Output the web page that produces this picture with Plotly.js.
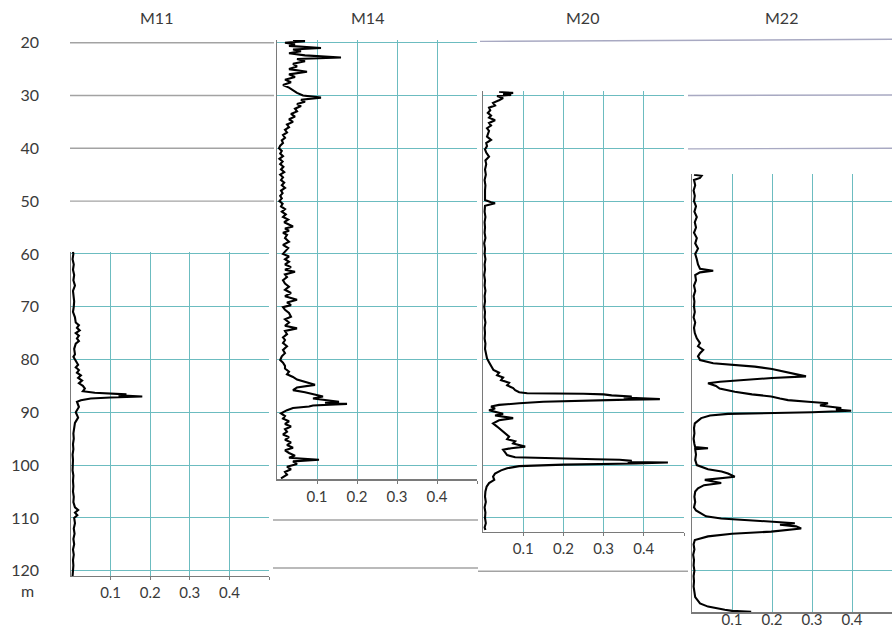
<!DOCTYPE html>
<html>
<head>
<meta charset="utf-8">
<script src="https://cdn.plot.ly/plotly-3.0.1.min.js"></script>
<style>html,body{margin:0;padding:0;background:#fff;}#chart{width:892px;height:630px;}</style>
</head>
<body>
<div id="chart"></div>
<script>
// ---------------- DATA ----------------
const wellNames = ['M11', 'M14', 'M20', 'M22'];
const depthTickVals = [20, 30, 40, 50, 60, 70, 80, 90, 100, 110, 120];
const depthTickText = ['20', '30', '40', '50', '60', '70', '80', '90', '100', '110', '120'];
const depthUnit = 'm';
const gridDepths = [20, 30, 40, 50, 60, 70, 80, 90, 100, 110, 120];
const xTickVals = [0.1, 0.2, 0.3, 0.4, 0.5];
const xTickText = ['0.1', '0.2', '0.3', '0.4', ''];

const m11Depth = [59.6,60,61,62,63,64,65,66,67,68,69,70,71,72,73,73.5,74,74.5,75,75.5,76,76.5,77,78,79,79.5,80,80.5,81,81.5,82,82.5,83,83.5,84,84.5,85,85.5,86,86.3,86.6,86.8,87,87.2,87.4,87.7,88,89,90,91,92,93,94,95,96,97,98,99,100,101,102,103,104,105,106,107,108,108.5,109,109.5,110,111,112,113,114,115,116,117,118,119,120,121];
const m11Val = [0.005,0.006,0.004,0.007,0.005,0.008,0.006,0.01,0.005,0.006,0.008,0.007,0.005,0.01,0.012,0.02,0.015,0.022,0.012,0.02,0.015,0.02,0.012,0.008,0.01,0.006,0.01,0.012,0.018,0.012,0.02,0.015,0.025,0.018,0.028,0.02,0.03,0.035,0.03,0.06,0.14,0.12,0.18,0.1,0.05,0.025,0.015,0.02,0.012,0.018,0.01,0.008,0.006,0.007,0.005,0.006,0.004,0.005,0.005,0.004,0.006,0.005,0.006,0.005,0.007,0.006,0.01,0.018,0.01,0.016,0.008,0.01,0.007,0.009,0.006,0.008,0.005,0.007,0.005,0.006,0.005,0.004];

const m14Depth = [19.5,19.7,20,20.3,20.6,21,21.3,21.6,22,22.4,22.8,23.1,23.5,24,24.5,25,25.5,26,26.5,27,27.5,28,28.5,29,29.5,30,30.4,30.8,31.2,31.6,32,32.5,33,33.5,34,34.5,35,35.5,36,36.5,37,37.5,38,38.5,39,39.5,40,40.5,41,41.5,42,42.5,43,43.5,44,44.5,45,45.5,46,46.5,47,47.5,48,48.5,49,49.5,50,50.5,51,51.5,52,52.5,53,53.5,54,54.8,55.2,55.6,56,56.4,57,57.7,58.3,58.9,59.5,60,60.5,61,61.5,62,62.5,63,63.4,63.9,64.4,65,65.6,66.2,66.8,67.4,68,68.7,69.2,69.7,70.1,70.6,71.2,71.9,72.4,73,73.6,74.1,74.6,75.2,75.8,76.3,76.9,77.5,78.2,78.8,79.4,80.1,80.6,81.2,81.7,82.3,82.8,83.3,83.8,84.3,84.8,85.3,85.8,86.2,86.6,87,87.4,87.7,88,88.2,88.4,88.7,88.9,89.2,89.6,90.2,90.7,91.2,91.7,92.2,92.7,93.2,93.7,94.2,94.7,95.2,95.7,96.2,96.7,97.2,97.7,98.2,98.6,99,99.3,99.8,100.3,100.8,101.3,101.8,102.2,102.5];
const m14Val = [0.04,0.07,0.02,0.045,0.03,0.11,0.04,0.06,0.03,0.07,0.16,0.05,0.07,0.04,0.05,0.03,0.075,0.03,0.045,0.02,0.035,0.015,0.03,0.04,0.05,0.065,0.11,0.06,0.07,0.05,0.06,0.045,0.05,0.035,0.045,0.03,0.04,0.025,0.03,0.02,0.025,0.015,0.02,0.012,0.015,0.008,0.005,0.012,0.008,0.015,0.006,0.014,0.008,0.016,0.01,0.018,0.008,0.015,0.01,0.018,0.012,0.02,0.01,0.014,0.008,0.012,0.006,0.014,0.01,0.02,0.012,0.022,0.015,0.028,0.018,0.04,0.02,0.03,0.015,0.025,0.02,0.03,0.015,0.028,0.02,0.015,0.03,0.02,0.03,0.02,0.035,0.02,0.045,0.02,0.025,0.015,0.02,0.03,0.02,0.035,0.02,0.05,0.025,0.035,0.015,0.02,0.03,0.035,0.02,0.03,0.02,0.05,0.02,0.025,0.015,0.02,0.015,0.025,0.015,0.02,0.012,0.008,0.015,0.02,0.02,0.03,0.025,0.04,0.05,0.07,0.095,0.05,0.04,0.07,0.09,0.115,0.09,0.13,0.155,0.12,0.175,0.09,0.08,0.04,0.025,0.01,0.02,0.015,0.03,0.02,0.035,0.02,0.025,0.015,0.03,0.02,0.035,0.025,0.04,0.02,0.03,0.045,0.03,0.105,0.04,0.05,0.025,0.035,0.02,0.025,0.015,0.01];

const m20Depth = [29.3,29.5,29.7,29.9,30.1,30.5,30.9,31.4,31.9,32.3,32.8,33.3,33.8,34.2,34.7,35.2,35.7,36.2,36.7,37.2,37.8,38.4,39,39.6,40.2,40.8,41.6,42.3,43,44,45,46,47,48,49,49.8,50.2,50.4,50.6,50.9,52,53,54,55,56,57,58,59,60,61,62,63,64,65,66,67,68,69,70,71,72,73,74,75,76,77,78,79,79.8,80.5,81.2,82,82.5,83,83.4,83.9,84.4,84.9,85.4,85.8,86.2,86.4,86.5,86.6,86.8,87,87.2,87.4,87.5,87.6,87.8,88,88.3,88.6,88.9,89.3,89.6,90,90.3,90.6,91.1,91.5,92.1,92.7,93.3,94,94.6,95.1,95.5,95.9,96.3,96.5,96.8,97.1,97.6,98.1,98.5,98.7,98.9,99,99.2,99.4,99.5,99.7,99.9,100.2,100.6,101,101.6,102.2,102.8,103.4,104.1,105,106,107,108,109,110,111,111.8,112.3];
const m20Val = [0.04,0.075,0.05,0.07,0.035,0.05,0.04,0.025,0.03,0.015,0.018,0.012,0.02,0.015,0.03,0.015,0.02,0.01,0.015,0.012,0.01,0.02,0.008,0.01,0.005,0.008,0.015,0.006,0.008,0.005,0.007,0.004,0.006,0.005,0.006,0.005,0.02,0.03,0.02,0.005,0.004,0.006,0.004,0.005,0.004,0.006,0.003,0.005,0.004,0.006,0.004,0.005,0.003,0.005,0.004,0.006,0.004,0.005,0.003,0.005,0.004,0.006,0.004,0.005,0.004,0.006,0.005,0.007,0.01,0.015,0.02,0.026,0.04,0.035,0.05,0.045,0.065,0.06,0.075,0.08,0.09,0.11,0.25,0.3,0.32,0.37,0.35,0.43,0.44,0.36,0.28,0.15,0.09,0.04,0.02,0.03,0.015,0.04,0.05,0.03,0.075,0.04,0.025,0.035,0.045,0.055,0.065,0.06,0.08,0.075,0.1,0.105,0.07,0.05,0.055,0.06,0.08,0.16,0.28,0.34,0.37,0.36,0.46,0.38,0.2,0.09,0.06,0.045,0.03,0.025,0.028,0.015,0.009,0.006,0.005,0.007,0.004,0.006,0.005,0.007,0.004,0.006,0.008];

const m22Depth = [45,45.2,45.6,46,47,48,49,50,51,52,53,54,55,56,57,58,59,60,61,62,62.8,63.2,63.5,64,65,66,67,68,69,70,71,72,73,74,75,76,76.9,77.5,78.2,78.8,79.4,80.1,80.7,81.35,81.8,82.3,82.7,83.2,83.5,83.9,84.2,84.5,85,85.5,86.1,86.6,87,87.4,87.7,88,88.3,88.7,89.2,89.5,89.7,90,90.1,90.3,90.6,91.1,92.1,93,94,95,96,96.6,96.8,97,98,99,100,100.8,101.2,101.6,102.2,102.5,102.8,103.1,103.4,103.8,104.4,105,106,107,108,108.6,109.1,109.7,110.1,110.5,110.7,111,111.3,111.6,112,112.3,112.6,113,113.5,114.2,115,116,117,118,119,120,121,122,123,124,125,126.2,126.8,127.4,127.6,127.8];
const m22Val = [0.005,0.024,0.02,0.005,0.008,0.004,0.007,0.005,0.01,0.006,0.012,0.007,0.01,0.005,0.012,0.008,0.015,0.008,0.012,0.015,0.02,0.053,0.02,0.008,0.01,0.005,0.008,0.004,0.006,0.005,0.007,0.004,0.008,0.005,0.007,0.012,0.02,0.015,0.028,0.02,0.015,0.02,0.053,0.157,0.2,0.232,0.26,0.285,0.2,0.12,0.07,0.04,0.06,0.069,0.107,0.15,0.198,0.22,0.24,0.29,0.34,0.32,0.373,0.36,0.398,0.3,0.24,0.09,0.045,0.023,0.007,0.005,0.006,0.004,0.006,0.008,0.04,0.008,0.01,0.008,0.012,0.04,0.074,0.09,0.107,0.06,0.032,0.053,0.073,0.03,0.015,0.008,0.006,0.008,0.005,0.01,0.02,0.035,0.073,0.15,0.207,0.257,0.22,0.26,0.273,0.23,0.198,0.1,0.04,0.007,0.004,0.006,0.003,0.005,0.004,0.006,0.004,0.005,0.004,0.006,0.008,0.02,0.04,0.082,0.1,0.148];

const wellDepths = [m11Depth, m14Depth, m20Depth, m22Depth];
const wellValues = [m11Val, m14Val, m20Val, m22Val];

// correlation marker depths (gray lines between logs)
const corrDepthsLeft = [20, 30, 40, 50];
const corrDepthsMid = [110.4, 119.5];
const corrDepthsRight = [30, 40.1];

// ---------------- LAYOUT HELPERS ----------------
const W = 892, H = 630;
const PX0 = 42.7, PXM = 5.28; // pixel of depth 20, pixels per metre
function py(d) { return PX0 + (d - 20) * PXM; }
function yDom(top, bottom) { return [1 - py(bottom) / H, 1 - py(top) / H]; }
const panelX = [[71, 269], [277, 477], [483, 684], [692, 892]];
const panelDepth = [[59.6, 121], [19.5, 102.7], [29.2, 112.6], [44.9, 127.9]];
const titleX = [156, 367, 582, 781];
const labelStandoff = [0, 0, 0, -7];

const teal = '#6cbcc0';
const axisGray = '#7a7a7a';
const corrGray = '#a3a3a3';
const FONT = 'Lato, "Open Sans", sans-serif';

const data = [];
const layout = {
  width: W, height: H, autosize: false,
  margin: {l: 0, r: 0, t: 0, b: 0, pad: 0},
  paper_bgcolor: '#fff', plot_bgcolor: 'rgba(0,0,0,0)',
  showlegend: false,
  font: {family: FONT, color: '#3a3a3a', size: 14},
  annotations: [], shapes: []
};

for (let i = 0; i < 4; i++) {
  const n = i + 1;
  const sfx = n === 1 ? '' : String(n);
  data.push({
    type: 'scatter', mode: 'lines',
    x: wellValues[i], y: wellDepths[i],
    xaxis: 'x' + sfx, yaxis: 'y' + sfx,
    line: {color: '#000', width: 2.1}, hoverinfo: 'skip'
  });
  layout['xaxis' + sfx] = {
    domain: [panelX[i][0] / W, panelX[i][1] / W],
    anchor: 'y' + sfx,
    range: [0, 0.5], fixedrange: true,
    tickmode: 'array', tickvals: xTickVals, ticktext: xTickText,
    showgrid: true, gridcolor: teal, gridwidth: 1,
    zeroline: false, showline: true, linecolor: axisGray, linewidth: 1.5,
    ticks: i === 3 ? '' : 'outside', ticklen: 3, tickcolor: axisGray,
    ticklabelstandoff: labelStandoff[i],
    tickfont: {family: FONT, size: 15, color: '#3a3a3a'}
  };
  layout['yaxis' + sfx] = {
    domain: yDom(panelDepth[i][0], panelDepth[i][1]),
    anchor: 'x' + sfx,
    range: [panelDepth[i][1], panelDepth[i][0]], fixedrange: true,
    tickmode: 'array', tickvals: gridDepths, showticklabels: false,
    showgrid: true, gridcolor: teal, gridwidth: 1,
    zeroline: false, showline: true, linecolor: axisGray, linewidth: 1.5,
    ticks: ''
  };
  layout.annotations.push({
    text: wellNames[i], xref: 'paper', yref: 'paper',
    x: titleX[i] / W, y: 1 - 17 / H, xanchor: 'center', yanchor: 'middle',
    showarrow: false, font: {family: FONT, size: 16, color: '#3a3a3a'}
  });
}

// depth scale on the left
data.push({type: 'scatter', mode: 'lines', x: [0], y: [depthTickVals[0]], xaxis: 'x5', yaxis: 'y5', hoverinfo: 'skip', line: {color: 'rgba(0,0,0,0)'}});
layout.xaxis5 = {domain: [0, 0.02], visible: false, range: [0, 1], anchor: 'y5'};
layout.yaxis5 = {
  domain: [0, 1], anchor: 'free', position: 39 / W, side: 'left',
  range: [20 + (H - PX0) / PXM, 20 - PX0 / PXM], fixedrange: true,
  tickmode: 'array', tickvals: depthTickVals, ticktext: depthTickText,
  showgrid: false, zeroline: false, showline: false, ticks: '',
  tickfont: {family: FONT, size: 16, color: '#3a3a3a'}
};
layout.annotations.push({
  text: depthUnit, xref: 'paper', yref: 'y5', x: 27 / W, y: 20 + (590 - PX0) / PXM,
  xanchor: 'center', yanchor: 'middle', showarrow: false,
  font: {family: FONT, size: 16, color: '#3a3a3a'}
});

// correlation lines
function hline(x0, x1, d0, d1, col) {
  layout.shapes.push({type: 'line', xref: 'paper', yref: 'y5', x0: x0 / W, x1: x1 / W, y0: d0, y1: d1,
    line: {color: col || corrGray, width: 1.4}, layer: 'below'});
}
corrDepthsLeft.forEach(d => hline(70, 274, d, d));
corrDepthsMid.forEach(d => hline(273, 478, d, d));
hline(478, 688, 120.1, 120.1);
hline(480, 892, 19.75, 19.35, '#a8a9c2');
corrDepthsRight.forEach(d => hline(688, 892, d, d - 0.1, '#a8a9c2'));

Plotly.newPlot('chart', data, layout, {staticPlot: true, displayModeBar: false});
</script>
</body>
</html>
